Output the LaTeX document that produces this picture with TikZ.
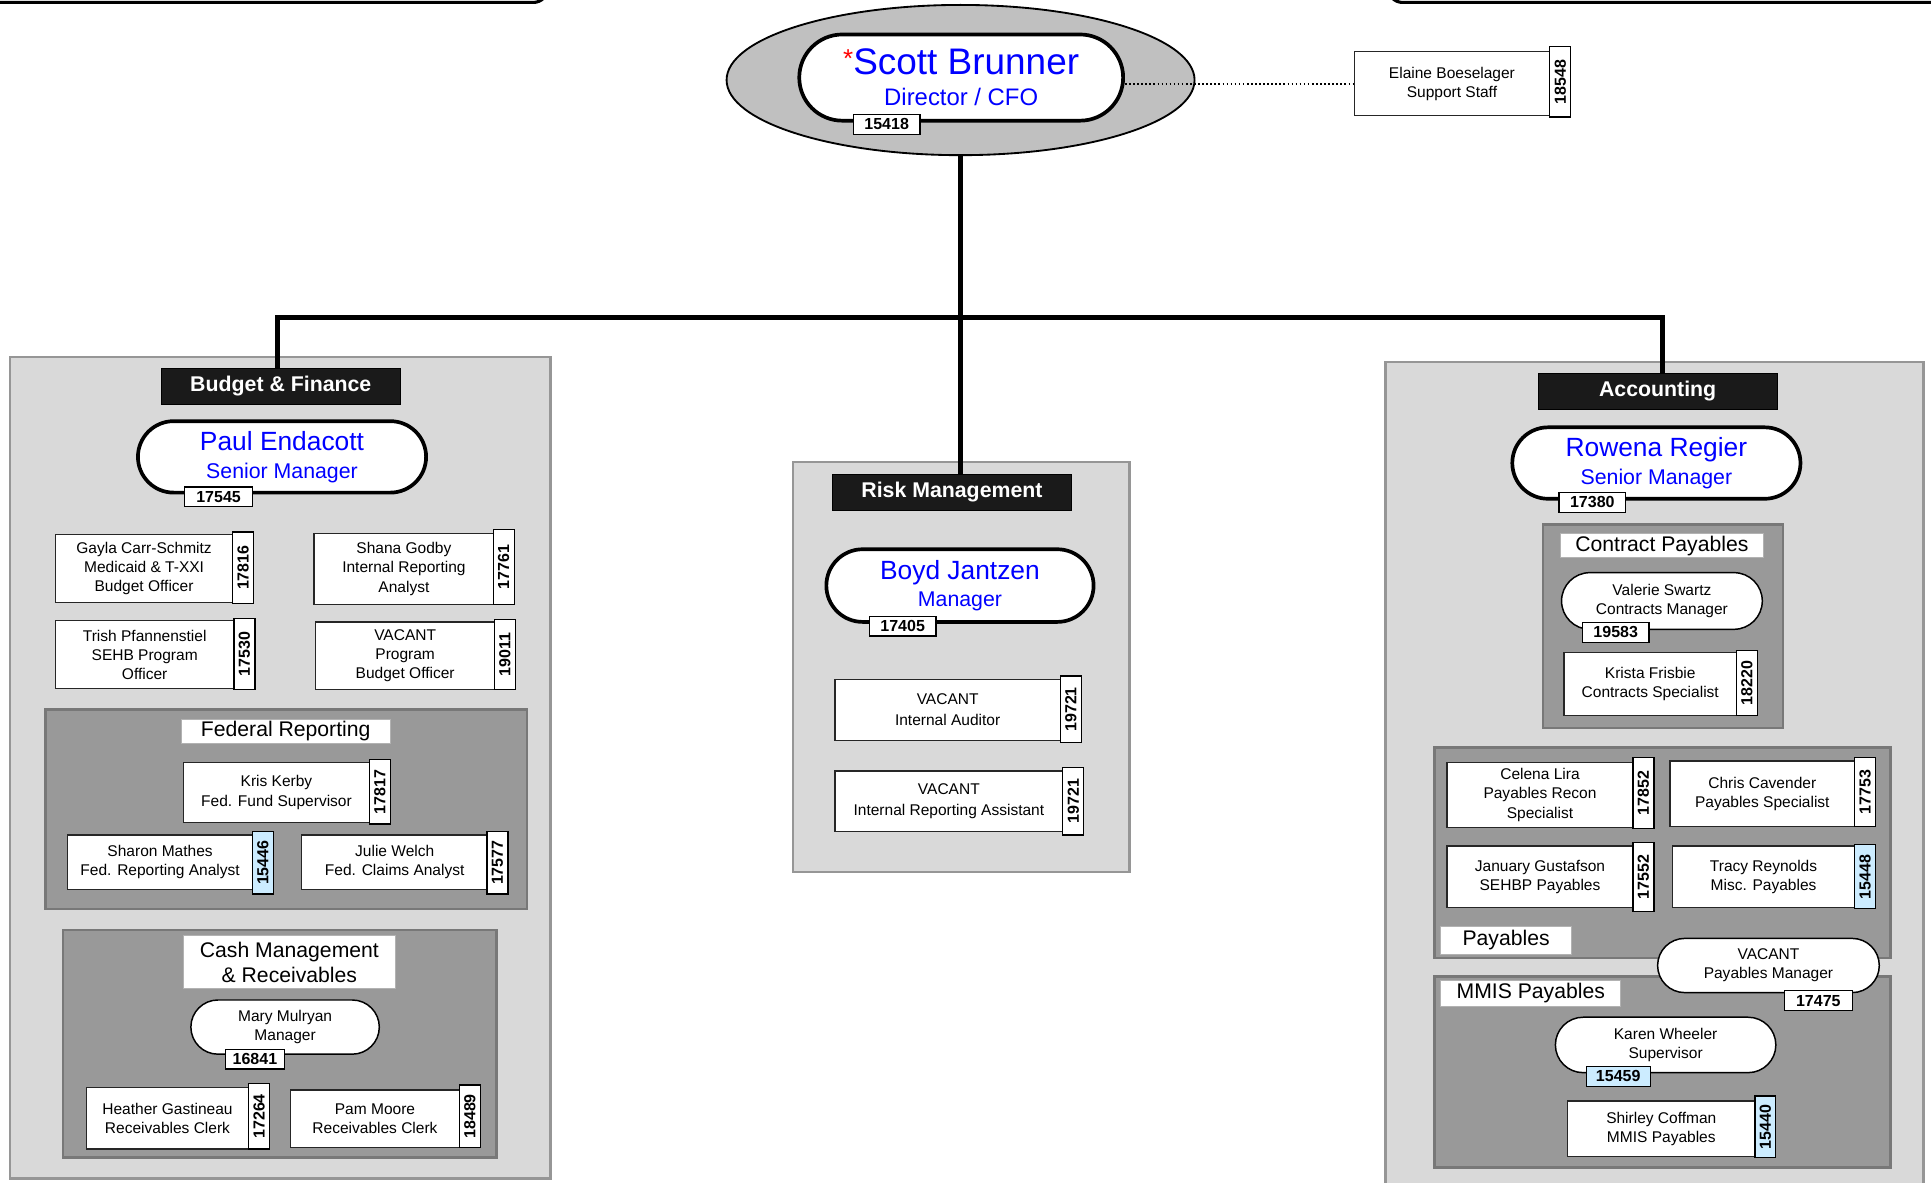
\documentclass[tikz,border=0pt]{standalone}
\usepackage{fontspec}
\setmainfont{Liberation Sans}
\usetikzlibrary{shapes.geometric,shapes.misc}

\definecolor{panelgray}{RGB}{217,217,217}
\definecolor{paneledge}{RGB}{150,150,150}
\definecolor{subgray}{RGB}{153,153,153}
\definecolor{subedge}{RGB}{120,120,120}
\definecolor{ovalgray}{RGB}{192,192,192}
\definecolor{idblue}{RGB}{204,236,255}
\definecolor{namblue}{RGB}{0,0,255}
\definecolor{headblack}{RGB}{26,26,26}

\newcommand{\boxfont}{\fontsize{12.6}{15.5}\selectfont}
\newcommand{\idfont}{\fontsize{13}{13}\selectfont\bfseries}
\newcommand{\headfont}{\fontsize{17.3}{20}\selectfont\bfseries}
\newcommand{\unitfont}{\fontsize{17.2}{20}\selectfont}
\newcommand{\bigname}{\fontsize{21.4}{24}\selectfont}
\newcommand{\bigrole}{\fontsize{17.3}{22}\selectfont}

\tikzset{
  panel/.style={fill=panelgray, draw=paneledge, line width=2pt},
  subpanel/.style={fill=subgray, draw=subedge, line width=2pt},
  unitlbl/.style={fill=white, draw=black!30, line width=0.8pt, inner sep=0pt, font=\unitfont, align=center},
  head/.style={fill=headblack, draw=black, text=white, font=\headfont, minimum width=194pt, minimum height=29pt, inner sep=0pt},
  staff/.style={fill=white, draw=black!85, line width=1pt, inner sep=0pt, align=center, font=\boxfont},
  boss/.style={rounded rectangle, fill=white, draw=black, line width=3pt, inner sep=0pt, align=center, text=namblue},
  lead/.style={rounded rectangle, fill=white, draw=black, line width=1.2pt, inner sep=0pt, align=center, font=\boxfont},
  idh/.style={fill=white, draw=black, line width=1pt, inner sep=0pt, font=\idfont, minimum height=16pt},
  idv/.style={idh, rotate=90, minimum height=17pt},
  trunk/.style={line width=4pt}
}

\begin{document}
\begin{tikzpicture}[x=1pt,y=-1pt]
    \useasboundingbox (0,0) rectangle (1568,960);
    \clip (0,0) rectangle (1568,960);
    %% frames cut off at the top
    \draw[line width=2.5pt, rounded corners=12pt] (-20,-40) rectangle (445,2);
    \draw[line width=2.5pt, rounded corners=12pt] (1127,-40) rectangle (1590,2);
    %% section panels
    \draw[panel] (8,290) rectangle (447,957);
    \draw[panel] (644,375) rectangle (917,708);
    \draw[panel] (1125,294) rectangle (1562,985);
    \draw[subpanel] (37,576) rectangle (428,738);
    \draw[subpanel] (51,755) rectangle (403,940);
    \draw[subpanel] (1253,426) rectangle (1448,591);
    \draw[subpanel] (1165,607) rectangle (1535,778);
    \draw[subpanel] (1165,793) rectangle (1535,948);

    %% Director
    \node[ellipse, fill=ovalgray, draw=black, line width=1.5pt, minimum width=380pt, minimum height=122pt] (office) at (780,65) {};
    \node[boss, minimum width=263pt, minimum height=70pt] (scott) at (780.5,63)
        {{\color{red}\fontsize{21}{21}\selectfont\raisebox{6pt}{*}}\fontsize{30}{32}\selectfont Scott Brunner\\[10pt]\fontsize{19.4}{22}\selectfont Director / CFO};
    \node[idh, minimum width=54pt] (scottid) at (720,101) {15418};
    \node[staff, minimum width=158pt, minimum height=52pt] (elaine) at (1179,68) {Elaine Boeselager\\Support Staff};
    \node[idv, minimum width=57pt] (elaineid) at (1267,66.5) {18548};

    %% Budget & Finance
    \node[head] (bfhd) at (228,313.5) {Budget \& Finance};
    \node[boss, minimum width=234pt, minimum height=58pt] (paul) at (229,371)
        {\bigname Paul Endacott\\[9pt]\bigrole Senior Manager};
    \node[idh, minimum width=55pt] (paulid) at (177.5,403.5) {17545};
    \node[staff, minimum width=144pt, minimum height=55pt] (gayla) at (117,461.5) {Gayla Carr-Schmitz\\Medicaid \& T-XXI\\Budget Officer};
    \node[idv, minimum width=58pt] (gaylaid) at (197.5,461) {17816};
    \node[staff, minimum width=146pt, minimum height=58pt] (shana) at (328,462) {Shana Godby\\Internal Reporting\\Analyst};
    \node[idv, minimum width=61pt] (shanaid) at (409,460.5) {17761};
    \node[staff, minimum width=145pt, minimum height=55pt] (trish) at (117.5,531.5) {Trish Pfannenstiel\\SEHB Program\\Officer};
    \node[idv, minimum width=58pt] (trishid) at (198.5,531) {17530};
    \node[staff, minimum width=146pt, minimum height=55pt] (vacbud) at (329,532.5) {VACANT\\Program\\Budget Officer};
    \node[idv, minimum width=57pt] (vacbudid) at (410,531.5) {19011};
    %% Federal Reporting
    \node[unitlbl, minimum width=170pt, minimum height=20pt] (fedlbl) at (232,594) {Federal Reporting};
    \node[staff, minimum width=151pt, minimum height=49pt] (kris) at (224.5,643.5) {Kris Kerby\\Fed. Fund Supervisor};
    \node[idv, minimum width=52pt] (krisid) at (308.5,643) {17817};
    \node[staff, minimum width=150pt, minimum height=44pt] (sharon) at (130,700) {Sharon Mathes\\Fed. Reporting Analyst};
    \node[idv, minimum width=51pt, fill=idblue] (sharonid) at (213.5,700.5) {15446};
    \node[staff, minimum width=151pt, minimum height=44pt] (julie) at (320.5,700) {Julie Welch\\Fed. Claims Analyst};
    \node[idv, minimum width=51pt] (julieid) at (404,700.5) {17577};
    %% Cash Management
    \node[unitlbl, minimum width=172pt, minimum height=43pt] (cashlbl) at (235,781.5) {Cash Management\\\& Receivables};
    \node[lead, minimum width=153pt, minimum height=44pt] (mary) at (231.5,834) {Mary Mulryan\\Manager};
    \node[idh, minimum width=48pt] (maryid) at (207,860) {16841};
    \node[staff, minimum width=132pt, minimum height=50pt] (heather) at (136,908) {Heather Gastineau\\Receivables Clerk};
    \node[idv, minimum width=53pt] (heatherid) at (210.5,906.5) {17264};
    \node[staff, minimum width=137pt, minimum height=47pt] (pam) at (304.5,908.5) {Pam Moore\\Receivables Clerk};
    \node[idv, minimum width=51pt] (pamid) at (381.5,906.5) {18489};

    %% Risk Management
    \node[head] (riskhd) at (773,399.5) {Risk Management};
    \node[boss, minimum width=217pt, minimum height=59pt] (boyd) at (779.5,475.5)
        {\bigname Boyd Jantzen\\[4pt]\bigrole Manager};
    \node[idh, minimum width=54pt] (boydid) at (733,508.5) {17405};
    \node[staff, minimum width=183pt, minimum height=49pt] (auditor) at (769.5,576.5) {VACANT\\[1.5pt]Internal Auditor};
    \node[idv, minimum width=54pt] (auditorid) at (869.5,576) {19721};
    \node[staff, minimum width=185pt, minimum height=49pt] (irassist) at (770.5,650.5) {VACANT\\[1.5pt]Internal Reporting Assistant};
    \node[idv, minimum width=55pt] (irassistid) at (871.5,650.5) {19721};

    %% Accounting
    \node[head] (acchd) at (1346,317.5) {Accounting};
    \node[boss, minimum width=234pt, minimum height=58pt] (rowena) at (1345,376)
        {\bigname Rowena Regier\\[5pt]\bigrole Senior Manager};
    \node[idh, minimum width=54pt] (rowenaid) at (1293,408) {17380};
    %% Contract Payables
    \node[unitlbl, minimum width=165pt, minimum height=20pt] (contlbl) at (1349.5,443) {Contract Payables};
    \node[lead, minimum width=163pt, minimum height=46pt] (valerie) at (1349.5,488) {Valerie Swartz\\Contracts Manager};
    \node[idh, minimum width=54pt] (valerieid) at (1312,513.5) {19583};
    \node[staff, minimum width=140pt, minimum height=51pt] (krista) at (1340,555.5) {Krista Frisbie\\Contracts Specialist};
    \node[idv, minimum width=53pt] (kristaid) at (1418.5,554.5) {18220};
    %% Payables
    \node[staff, minimum width=151pt, minimum height=53pt] (celena) at (1250.5,645.5) {Celena Lira\\Payables Recon\\Specialist};
    \node[idv, minimum width=58pt] (celenaid) at (1334.5,644) {17852};
    \node[staff, minimum width=150pt, minimum height=53pt] (chris) at (1431,644.5) {Chris Cavender\\Payables Specialist};
    \node[idv, minimum width=56pt] (chrisid) at (1514.5,643) {17753};
    \node[staff, minimum width=151pt, minimum height=50pt] (january) at (1250.5,712) {January Gustafson\\SEHBP Payables};
    \node[idv, minimum width=56pt] (januaryid) at (1334.5,712) {17552};
    \node[staff, minimum width=148pt, minimum height=50pt] (tracy) at (1432,712) {Tracy Reynolds\\Misc. Payables};
    \node[idv, minimum width=52pt, fill=idblue] (tracyid) at (1514.5,712) {15448};
    \node[unitlbl, minimum width=106pt, minimum height=23pt] (paylbl) at (1223,763.5) {Payables};
    %% MMIS Payables
    \node[unitlbl, minimum width=146pt, minimum height=21pt] (mmislbl) at (1243,806.5) {MMIS Payables};
    \node[lead, minimum width=180pt, minimum height=44pt] (paymgr) at (1436,784) {VACANT\\Payables Manager};
    \node[idh, minimum width=55pt] (paymgrid) at (1476.5,812.5) {17475};
    \node[lead, minimum width=179pt, minimum height=45pt] (karen) at (1352.5,848.5) {Karen Wheeler\\Supervisor};
    \node[idh, minimum width=52pt, fill=idblue] (karenid) at (1314,874) {15459};
    \node[staff, minimum width=152pt, minimum height=45pt] (shirley) at (1349,916.5) {Shirley Coffman\\MMIS Payables};
    \node[idv, minimum width=50pt, fill=idblue] (shirleyid) at (1433.5,915) {15440};

    %% reporting lines
    \coordinate (bus) at (780,258);
    \draw[trunk] (office.south) -- (office.south |- riskhd.north);
    \draw[trunk] ([xshift=-3pt]bfhd.north) |- (bus) -| ([xshift=4pt]acchd.north);
    \draw[dotted, line width=1.3pt] (elaine.west -| scott.east) -- (elaine.west);
\end{tikzpicture}
\end{document}
